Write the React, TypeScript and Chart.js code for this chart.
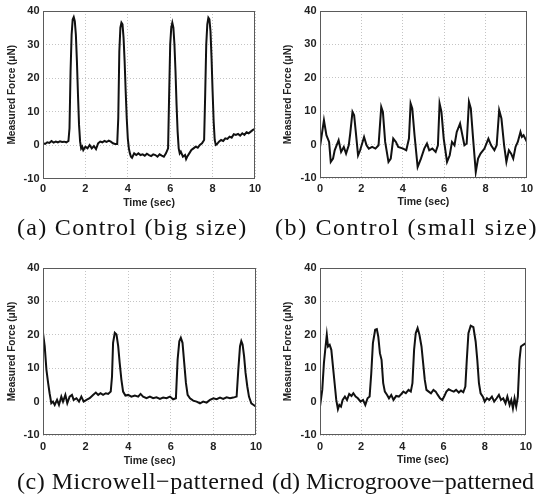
import React, { useEffect, useRef } from "react";
import { Chart, registerables } from "chart.js";

Chart.register(...registerables);

// ---------- data ----------
const xTickStep = 2;
const yTickStep = 10;
const xMin = 0;
const xMax = 10;
const yMin = -10;
const yMax = 40;

const xTitle = "Time (sec)";
const yTitle = "Measured Force (\u03bcN)";

const captions = [
  "(a) Control (big size)",
  "(b) Control (small size)",
  "(c) Microwell\u2212patterned",
  "(d) Microgroove\u2212patterned",
];

const timeA = [0, 0.1, 0.2, 0.3, 0.4, 0.5, 0.6, 0.7, 0.8, 0.9, 1.0, 1.1, 1.2, 1.25, 1.3, 1.35, 1.4, 1.45, 1.5, 1.55, 1.6, 1.65, 1.7, 1.75, 1.8, 1.85, 1.9, 2.0, 2.1, 2.2, 2.3, 2.4, 2.5, 2.6, 2.7, 2.8, 2.9, 3.0, 3.1, 3.2, 3.3, 3.4, 3.5, 3.55, 3.6, 3.65, 3.7, 3.75, 3.8, 3.85, 3.9, 3.95, 4.0, 4.05, 4.1, 4.15, 4.2, 4.3, 4.4, 4.5, 4.6, 4.7, 4.8, 4.9, 5.0, 5.1, 5.2, 5.3, 5.4, 5.5, 5.6, 5.7, 5.8, 5.9, 5.95, 6.0, 6.05, 6.1, 6.15, 6.2, 6.25, 6.3, 6.35, 6.4, 6.45, 6.5, 6.6, 6.7, 6.75, 6.8, 6.9, 7.0, 7.1, 7.2, 7.3, 7.4, 7.5, 7.6, 7.65, 7.7, 7.75, 7.8, 7.85, 7.9, 7.95, 8.0, 8.05, 8.1, 8.15, 8.2, 8.3, 8.4, 8.5, 8.6, 8.7, 8.8, 8.9, 9.0, 9.1, 9.2, 9.3, 9.4, 9.5, 9.6, 9.7, 9.8, 9.9, 10];
const forceA = [0.5, 0.3, 0.8, 0.6, 1.2, 0.7, 1.0, 0.8, 1.1, 0.9, 1.0, 0.8, 1.2, 5, 22, 33, 37.5, 38.2, 37, 33, 25, 15, 6, 1, -1, -0.5, -1.5, -0.5, -1, 0, -1, -0.3, -1.2, 0.5, 1, 0.8, 1.2, 0.9, 1.3, 1, 0.5, 0.3, 0.3, 8, 28, 35, 36.5, 36, 32, 25, 16, 8, 2, -1, -2.5, -3.5, -3.8, -2.5, -3, -2.5, -3, -2.8, -3.2, -2.6, -3, -3.3, -2.8, -3, -3.5, -2.8, -3.2, -3.5, -2.5, -1, 15, 30, 35, 36.5, 35, 30, 22, 12, 4, -1, -2.5, -2, -3.5, -3, -4.2, -3.5, -2.5, -1.5, -1, -0.5, -0.8, 0, 0.5, 1.5, 15, 30, 36, 38, 37.5, 34, 26, 16, 7, 1.5, 0, 0.2, 1, 1.5, 1.2, 2, 1.8, 2.5, 2.2, 3.2, 3, 3.3, 2.8, 3.5, 3, 3.8, 3.5, 4, 4.5, 4.8];

const timeB = [0, 0.19, 0.31, 0.44, 0.52, 0.63, 0.71, 0.9, 1.02, 1.15, 1.26, 1.39, 1.46, 1.57, 1.65, 1.73, 1.84, 1.94, 2.13, 2.25, 2.36, 2.52, 2.68, 2.83, 2.96, 3.04, 3.15, 3.31, 3.42, 3.54, 3.67, 3.78, 4.02, 4.17, 4.3, 4.38, 4.46, 4.57, 4.72, 4.88, 5.04, 5.17, 5.28, 5.43, 5.59, 5.7, 5.78, 5.87, 5.98, 6.14, 6.27, 6.38, 6.5, 6.61, 6.77, 6.85, 6.98, 7.09, 7.2, 7.29, 7.4, 7.53, 7.64, 7.76, 7.95, 8.14, 8.27, 8.43, 8.54, 8.66, 8.77, 8.9, 9.01, 9.13, 9.24, 9.34, 9.45, 9.56, 9.69, 9.76, 9.84, 10];
const forceB = [-0.7, 7.3, 2.8, 0.8, -5.2, -4.2, -1.7, 1.3, -2.2, -0.7, -2.7, -0.2, 3.3, 9.8, 8.8, 3.8, -3.2, -1.7, 2.3, -0.2, -1.2, -0.7, -1.2, -0.2, 11.3, 9.8, 0.8, -5.2, -4.2, 1.8, 0.8, -0.7, -1.2, -1.7, 1.8, 12.3, 10.8, 2.8, -6.7, -4.2, -1.2, 0.3, -1.7, -1.2, -2.2, -0.2, 12.3, 9.8, 1.8, -5.2, -3.2, 0.8, -0.2, 3.8, 6.3, 3.8, -0.2, 0.3, 12.8, 10.8, 1.8, -8.2, -4.2, -2.7, -1.2, 1.8, -0.2, -1.7, -0.2, 10.3, 7.8, -0.2, -5.2, -1.7, -2.7, -4.2, -0.7, 0.8, 3.8, 2.3, 2.8, 0.8];

const timeC = [0, 0.08, 0.16, 0.24, 0.31, 0.39, 0.47, 0.55, 0.66, 0.75, 0.86, 0.94, 1.05, 1.14, 1.25, 1.36, 1.44, 1.57, 1.69, 1.8, 1.91, 2.04, 2.19, 2.35, 2.48, 2.59, 2.7, 2.82, 2.95, 3.06, 3.18, 3.24, 3.29, 3.37, 3.45, 3.53, 3.6, 3.68, 3.76, 3.87, 4.0, 4.15, 4.31, 4.47, 4.58, 4.7, 4.86, 5.02, 5.17, 5.33, 5.49, 5.64, 5.8, 5.96, 6.11, 6.24, 6.32, 6.4, 6.47, 6.55, 6.63, 6.71, 6.79, 6.9, 7.05, 7.21, 7.37, 7.52, 7.68, 7.84, 8.0, 8.15, 8.31, 8.46, 8.62, 8.78, 8.93, 9.09, 9.17, 9.25, 9.31, 9.37, 9.44, 9.51, 9.59, 9.67, 9.78, 9.89, 10];
const forceC = [20.6, 16.6, 9.6, 5.6, 2.5, -0.5, 0, -1, 0.5, -1, 1.5, 0, 2, -0.5, 1.5, 2, 0.5, 1, 0, 1.5, 0, 0.5, 1, 2, 2.7, 2, 2.5, 2, 2.5, 2.3, 3, 7.5, 17.6, 20.6, 20.1, 16.6, 11.6, 6.6, 3, 1.8, 2, 1.5, 1.8, 1.5, 2.3, 1.5, 1, 1.5, 1, 1.3, 0.8, 1.2, 1, 1.5, 0.7, 1, 12.6, 18.1, 19.1, 17.6, 11.6, 5.6, 2, 1, 0.3, 0, -0.5, 0, -0.3, 0.5, 1, 0.7, 1.2, 0.8, 1.3, 1, 1.2, 1.5, 9.6, 16.6, 18.1, 17.1, 13.6, 8.6, 4.6, 1.5, -0.5, -1, -1.5];

const timeD = [0, 0.11, 0.19, 0.27, 0.33, 0.39, 0.47, 0.55, 0.63, 0.71, 0.79, 0.87, 0.94, 1.02, 1.1, 1.21, 1.31, 1.42, 1.53, 1.62, 1.73, 1.84, 1.97, 2.09, 2.2, 2.31, 2.41, 2.49, 2.57, 2.68, 2.76, 2.83, 2.91, 2.99, 3.07, 3.15, 3.26, 3.35, 3.46, 3.57, 3.7, 3.83, 3.94, 4.05, 4.17, 4.3, 4.41, 4.49, 4.57, 4.65, 4.74, 4.83, 4.93, 5.01, 5.09, 5.17, 5.28, 5.39, 5.51, 5.62, 5.72, 5.83, 5.94, 6.03, 6.14, 6.25, 6.38, 6.5, 6.61, 6.74, 6.85, 6.96, 7.06, 7.13, 7.21, 7.32, 7.45, 7.56, 7.64, 7.72, 7.8, 7.91, 8.0, 8.11, 8.22, 8.35, 8.46, 8.58, 8.69, 8.79, 8.9, 9.01, 9.1, 9.21, 9.29, 9.37, 9.45, 9.53, 9.61, 9.69, 9.76, 9.87, 10];
const forceD = [-1.5, 3.5, 11.5, 16.5, 20, 16.5, 17, 15.5, 10.5, 5.5, 0.5, -2.3, -1, -1.5, 0.5, 1.5, 0.5, 2.3, 1.7, 2.5, 1.5, 1, 0, 0.5, -1, 1, 1.5, 8.5, 17.5, 21.5, 21.7, 19.5, 14.5, 12.5, 5.5, 3, 2, 1, 2, 0.5, 1.7, 1.5, 2.2, 3, 2.5, 3.5, 3, 5.5, 15.5, 20.5, 22, 20, 16.5, 11.5, 6.5, 3.5, 3, 2.5, 3.5, 3, 2, 1, 0.5, 1.5, 3, 3.7, 3.3, 3, 3.5, 2.7, 3.3, 2.8, 4.5, 12.5, 20.5, 22.7, 22.3, 18, 12.5, 5.5, 2.5, 1.5, 0, 1, 0.5, 1.5, 0, 1, 2, 0.5, 1, -0.5, 1.5, -1, 0.5, -2, 1, -1.5, 1.5, 12.5, 16.5, 17, 17.5];

// ---------- layout (styles) ----------
type Geo = {
  left: number; top: number; w: number; h: number;
  yAxisW: number; padTop: number; padRight: number; xAxisH: number;
  yTitlePad: number; xTitlePad: number; xTickPad: number;
};

const panels: { times: number[]; forces: number[]; geo: Geo }[] = [
  { times: timeA, forces: forceA, geo: { left: 0, top: 0, w: 268, h: 215, yAxisW: 43, padTop: 11, padRight: 13, xAxisH: 36.5, yTitlePad: 6, xTitlePad: 6, xTickPad: 4 } },
  { times: timeB, forces: forceB, geo: { left: 268, top: 0, w: 269, h: 215, yAxisW: 52, padTop: 11, padRight: 6, xAxisH: 37, yTitlePad: 14, xTitlePad: 6.4, xTickPad: 4 } },
  { times: timeC, forces: forceC, geo: { left: 0, top: 250, w: 268, h: 222, yAxisW: 43, padTop: 18, padRight: 12, xAxisH: 37, yTitlePad: 6, xTitlePad: 4.6, xTickPad: 5 } },
  { times: timeD, forces: forceD, geo: { left: 268, top: 250, w: 269, h: 222, yAxisW: 52, padTop: 18, padRight: 6, xAxisH: 37, yTitlePad: 14, xTitlePad: 5.4, xTickPad: 5 } },
];

const captionPos = [
  { left: 17, top: 215, spacing: 1.3 },
  { left: 275, top: 215, spacing: 1.6 },
  { left: 17, top: 469, spacing: 0.5 },
  { left: 272, top: 469, spacing: 0 },
];

const textColor = "#222222";
const gridColor = "#c4c4c4";
const frameColor = "#5a5a5a";
const lineColor = "#111111";
const sansFont = "'Liberation Sans', Arial, sans-serif";

const framePlugin = {
  id: "frameBox",
  afterDraw(chart: any) {
    const { ctx, chartArea } = chart;
    const l = Math.round(chartArea.left) + 0.5;
    const t = Math.round(chartArea.top) + 0.5;
    const r = Math.round(chartArea.right) - 0.5;
    const b = Math.round(chartArea.bottom) - 0.5;
    ctx.save();
    ctx.strokeStyle = frameColor;
    ctx.lineWidth = 1;
    ctx.strokeRect(l, t, r - l, b - t);
    ctx.restore();
  },
};

function Panel({ times, forces, geo }: { times: number[]; forces: number[]; geo: Geo }) {
  const ref = useRef<HTMLCanvasElement | null>(null);
  useEffect(() => {
    if (!ref.current) return;
    const chart = new Chart(ref.current, {
      type: "line",
      data: {
        datasets: [
          {
            data: times.map((t, i) => ({ x: t, y: forces[i] })),
            borderColor: lineColor,
            borderWidth: 2,
            pointRadius: 0,
            tension: 0,
            fill: false,
          },
        ],
      },
      options: {
        animation: false,
        responsive: false,
        maintainAspectRatio: false,
        events: [],
        layout: { padding: { left: 0, top: geo.padTop, right: geo.padRight, bottom: 0 } },
        plugins: { legend: { display: false }, tooltip: { enabled: false } },
        scales: {
          x: {
            type: "linear",
            min: xMin,
            max: xMax,
            afterFit: (s: any) => { s.height = geo.xAxisH; },
            ticks: { stepSize: xTickStep, color: textColor, padding: geo.xTickPad, maxRotation: 0, autoSkip: false, font: { family: sansFont, size: 11, weight: "bold" } },
            grid: { color: gridColor, lineWidth: 1, drawTicks: false, borderDash: [1, 2] } as any,
            border: { display: false, dash: [1, 2] },
            title: { display: true, text: xTitle, color: textColor, padding: { top: 0, bottom: geo.xTitlePad }, font: { family: sansFont, size: 10.5, weight: "bold" } },
          },
          y: {
            type: "linear",
            min: yMin,
            max: yMax,
            afterFit: (s: any) => { s.width = geo.yAxisW; },
            ticks: { stepSize: yTickStep, color: textColor, padding: 3.5, font: { family: sansFont, size: 11, weight: "bold" } },
            grid: { color: gridColor, lineWidth: 1, drawTicks: false, borderDash: [1, 2] } as any,
            border: { display: false, dash: [1, 2] },
            title: { display: true, text: yTitle, color: textColor, padding: { top: geo.yTitlePad, bottom: 0 }, font: { family: sansFont, size: 10, weight: "bold" } },
          },
        },
      } as any,
      plugins: [framePlugin],
    });
    return () => chart.destroy();
  }, [times, forces, geo]);
  return (
    <canvas
      ref={ref}
      width={geo.w}
      height={geo.h}
      style={{ position: "absolute", left: geo.left, top: geo.top, width: geo.w, height: geo.h }}
    />
  );
}

export default function App() {
  return (
    <div style={{ position: "fixed", left: 0, top: 0, width: 537, height: 502, background: "#fff", overflow: "hidden" }}>
      {panels.map((p, i) => (
        <Panel key={i} times={p.times} forces={p.forces} geo={p.geo} />
      ))}
      {captions.map((c, i) => (
        <div
          key={"c" + i}
          style={{
            position: "absolute",
            left: captionPos[i].left,
            top: captionPos[i].top,
            fontFamily: "'Liberation Serif', 'Times New Roman', serif",
            fontSize: 24,
            lineHeight: "24px",
            letterSpacing: captionPos[i].spacing,
            whiteSpace: "nowrap",
            color: "#111",
          }}
        >
          {c}
        </div>
      ))}
    </div>
  );
}
